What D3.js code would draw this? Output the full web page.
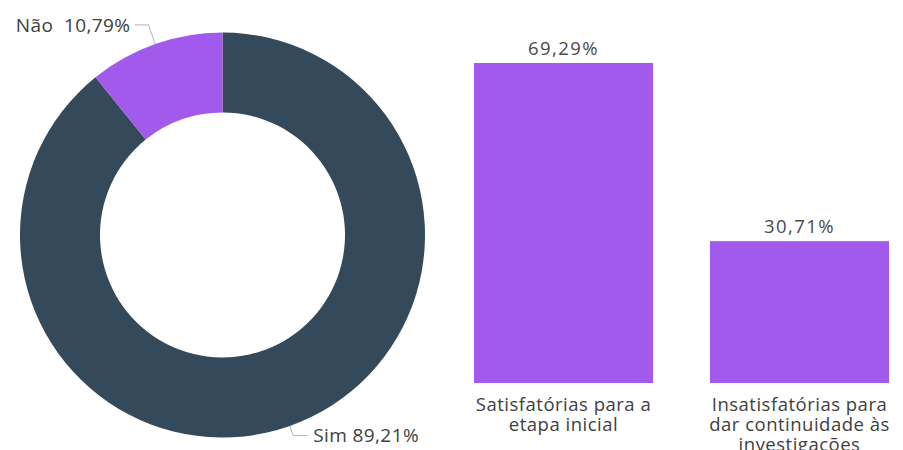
<!DOCTYPE html>
<html>
<head>
<meta charset="utf-8">
<script src="https://cdn.jsdelivr.net/npm/d3@7/dist/d3.min.js"></script>
<style>
  html, body { margin: 0; padding: 0; background: #fff; }
  svg { display: block; }
  text { font-family: "Open Sans", "Noto Sans", sans-serif; }
</style>
</head>
<body>
<svg id="chart" width="903" height="450"></svg>
<script>
// Donut: answer shares
const donutLabels = ["Sim", "Não"];
const donutValues = [89.21, 10.79];
const donutColors = ["#34495a", "#a25aec"];

// Bars: evaluation of results
const barCategories = [
  ["Satisfatórias para a", "etapa inicial"],
  ["Insatisfatórias para", "dar continuidade às", "investigações"]
];
const barValues = [69.29, 30.71];
const barColor = "#a25aec";

const fmt = v => v.toFixed(2).replace(".", ",") + "%";

const svg = d3.select("#chart");

// ---- donut ----
const cx = 222.5, cy = 235, rOuter = 202.5, rInner = 122.5;
const g = svg.append("g").attr("transform", `translate(${cx},${cy})`);

const pie = d3.pie().sort(null).value(d => d.value);
const arcs = pie(donutLabels.map((l, i) => ({ label: l, value: donutValues[i], color: donutColors[i] })));
const arc = d3.arc().innerRadius(rInner).outerRadius(rOuter);

g.selectAll("path.slice").data(arcs).join("path")
  .attr("class", "slice")
  .attr("d", arc)
  .attr("fill", d => d.data.color);

// leader lines and labels
const leader = { "Não": { elbow: 1.1, dir: -1, gap: 4 }, "Sim": { elbow: 1.05, dir: 1, gap: 6 } };
arcs.forEach(d => {
  const a = (d.startAngle + d.endAngle) / 2;
  const cfg = leader[d.data.label];
  const p0 = [Math.sin(a) * (rOuter - 8), -Math.cos(a) * (rOuter - 8)];
  const p1 = [Math.sin(a) * rOuter * cfg.elbow, -Math.cos(a) * rOuter * cfg.elbow];
  const p2 = [p1[0] + cfg.dir * 14, p1[1]];
  g.insert("polyline", "path.slice")
    .attr("points", [p0, p1, p2].map(p => p.join(",")).join(" "))
    .attr("fill", "none")
    .attr("stroke", "#b5b5b5")
    .attr("stroke-width", 1);
  g.append("text")
    .attr("x", p2[0] + cfg.dir * cfg.gap)
    .attr("y", p2[1])
    .attr("dy", "0.35em")
    .attr("text-anchor", cfg.dir < 0 ? "end" : "start")
    .attr("font-size", 19)
    .attr("letter-spacing", 0.4)
    .attr("fill", "#404040")
    .attr("xml:space", "preserve")
    .text(d.data.label + (cfg.dir < 0 ? "  " : " ") + fmt(d.data.value));
});

// ---- bars ----
const x = d3.scaleBand()
  .domain(d3.range(barValues.length))
  .range([474, 889])
  .paddingInner(0.2415)
  .paddingOuter(0);
const y = d3.scaleLinear().domain([0, 69.29]).range([383, 63]);

svg.selectAll("rect.bar").data(barValues).join("rect")
  .attr("class", "bar")
  .attr("x", (d, i) => x(i))
  .attr("y", d => y(d))
  .attr("width", x.bandwidth())
  .attr("height", d => y(0) - y(d))
  .attr("fill", barColor);

svg.selectAll("text.val").data(barValues).join("text")
  .attr("class", "val")
  .attr("x", (d, i) => x(i) + x.bandwidth() / 2)
  .attr("y", d => y(d) - 8)
  .attr("text-anchor", "middle")
  .attr("font-size", 18.5)
  .attr("font-weight", 500)
  .attr("letter-spacing", 1.4)
  .attr("fill", "#4a4a4a")
  .text(d => fmt(d));

const cat = svg.selectAll("text.cat").data(barCategories).join("text")
  .attr("class", "cat")
  .attr("text-anchor", "middle")
  .attr("font-size", 18.5)
  .attr("letter-spacing", 0.5)
  .attr("fill", "#404040");
cat.each(function(lines, i) {
  d3.select(this).selectAll("tspan").data(lines).join("tspan")
    .attr("x", x(i) + x.bandwidth() / 2)
    .attr("y", (l, j) => 411 + j * 20)
    .text(l => l);
});
</script>
</body>
</html>
